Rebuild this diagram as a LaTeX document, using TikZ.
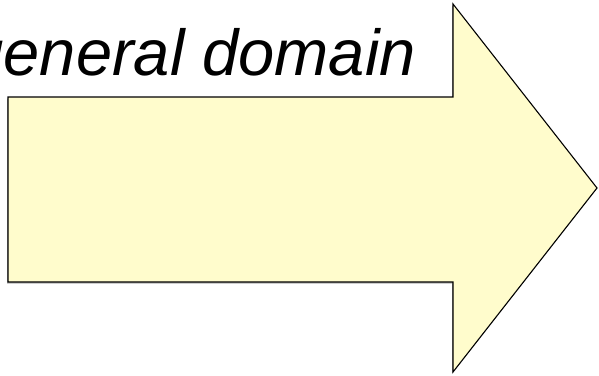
\documentclass[tikz,border=0pt]{standalone}
\usepackage{fontspec}
\setmainfont{Liberation Sans}
\definecolor{arrowfill}{HTML}{FFFCCC}
\begin{document}
\begin{tikzpicture}[x=1pt,y=-1pt,
  bigarrow/.style={draw=black, line width=1.1pt, fill=arrowfill, line join=miter},
  arrowshadow/.style={fill=gray!60},
  titletext/.style={font=\fontsize{65}{72}\selectfont\itshape, inner sep=0pt, anchor=base east}]
\useasboundingbox (0,0) rectangle (599,375);
\fill[arrowshadow, shift={(-1,1.5)}] (8,97) -- (453,97) -- (453,4) -- (597,188) -- (453,372) -- (453,282) -- (8,282) -- cycle;
\draw[bigarrow] (8,97) -- (453,97) -- (453,4) -- (597,188) -- (453,372) -- (453,282) -- (8,282) -- cycle;
\node[titletext] (title) at (416,75) {general domain};
\end{tikzpicture}
\end{document}
